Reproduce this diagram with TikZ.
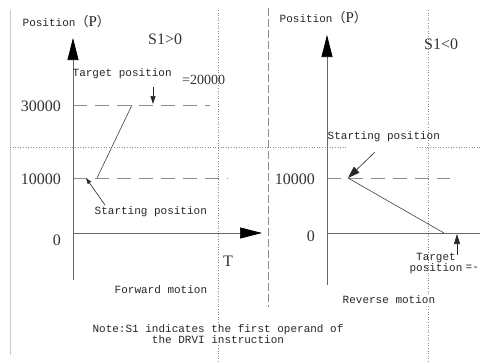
\documentclass[tikz,border=0pt]{standalone}
\usepackage{fontspec}
\setmainfont{Liberation Serif}
\setmonofont{Liberation Mono}
\newfontfamily\cjkfont{Noto Sans CJK SC}
\usetikzlibrary{arrows.meta}
\newcommand{\posP}{Position{\fontsize{13}{13}\selectfont\cjkfont （}{\fontsize{15}{15}\selectfont\rmfamily P}{\fontsize{13}{13}\selectfont\cjkfont ）}}
\tikzset{
  axis/.style={draw=black!60, line width=0.7pt},
  bigtip/.style={-{Triangle[length=22pt,width=11pt,color=black,fill=black]}},
  level/.style={draw=black!45, line width=0.7pt, dash pattern=on 14pt off 8pt},
  guide/.style={draw=black!45, line width=0.6pt, dotted},
  guidedash/.style={draw=black!45, line width=0.6pt, dash pattern=on 8pt off 3pt},
  curve/.style={draw=black!75, line width=0.6pt},
  mono/.style={font=\fontsize{11}{9}\selectfont\ttfamily, inner sep=0.5pt, text=black!85},
  num/.style={font=\fontsize{16}{16}\selectfont, inner sep=0pt, text=black!80},
  pointer/.style={draw=black!85, line width=0.6pt},
}
\begin{document}
\begin{tikzpicture}[x=1pt,y=-1pt]
\useasboundingbox[fill=white] (0,0) rectangle (480,362);
% frame / guide lines
\draw[draw=black!20, line width=0.6pt] (10,10) -- (10,355);
\draw[guide] (10,147) -- (347,147);
\draw[guide] (417,147) -- (480,147);
\draw[guide] (218,10) -- (218,362);
\draw[guide] (428,10) -- (428,362);
\draw[guidedash] (268,8) -- (268,307);

% ---------- left panel ----------
\coordinate (LO) at (73,233);
\coordinate (LYtop) at (73,38);
\coordinate (LYbot) at (73,280);
\coordinate (LXend) at (262,233);
\coordinate (L30a) at (73,105);
\coordinate (L30b) at (210,105);
\coordinate (L10a) at (73,178);
\coordinate (L10b) at (228,178);
\coordinate (Lstart) at (97,178);
\coordinate (Lend) at (132,105);

\draw[level] (L30a) -- (L30b);
\draw[level] (L10a) -- (L10b);
\draw[axis, bigtip] (LYbot) -- (LYtop);
\draw[axis, bigtip] (LO) -- (LXend);
\draw[curve] (Lstart) -- (Lend);

\node[mono, anchor=west] (lpos) at (22,22) {\posP};
\node[num, anchor=west] (ls1) at (148,39) {S1>0};
\node[num, anchor=east] (l30) at (61,106) {30000};
\node[num, anchor=east] (l10) at (61,179) {10000};
\node[num, anchor=east] (l0) at (61,240) {0};
\node[num, anchor=west] (lT) at (223,261) {T};
\node[mono, anchor=west] (ltarget) at (72,74) {Target position};
\node[font=\fontsize{14}{14}\selectfont, inner sep=0pt, anchor=west, text=black!80] (l20000) at (182,80) {=20000};
\coordinate (LtgtTip) at (153,104);
\coordinate (LtgtTail) at (153,87);
\draw[pointer, -{Triangle[length=8pt,width=5pt]}] (LtgtTail) -- (LtgtTip);
\node[mono, anchor=west] (lstartlbl) at (94,212) {Starting position};
\coordinate (LstTip) at (86,178);
\coordinate (LstTail) at (105,205);
\draw[pointer, -{Triangle[length=6pt,width=4pt]}] (LstTail) -- (LstTip);
\node[mono, anchor=west, fill=white] (lfwd) at (114,290) {Forward motion};

% ---------- right panel ----------
\coordinate (RO) at (327,233);
\coordinate (RYtop) at (327,35);
\coordinate (RYbot) at (327,285);
\coordinate (RXend) at (480,233);
\coordinate (R10a) at (327,178);
\coordinate (R10b) at (450,178);
\coordinate (Rstart) at (348,178);
\coordinate (Rend) at (444,233);

\draw[level] (R10a) -- (R10b);
\draw[axis, bigtip] (RYbot) -- (RYtop);
\draw[axis] (RO) -- (RXend);
\draw[curve] (Rstart) -- (Rend);

\node[mono, anchor=west] (rpos) at (279,18) {\posP};
\node[num, anchor=west] (rs1) at (424,44) {S1<0};
\node[num, anchor=east] (r10) at (315,179) {10000};
\node[num, anchor=east] (r0) at (315,236) {0};
\node[mono, anchor=west] (rstartlbl) at (327,137) {Starting position};
\coordinate (RstTip) at (348,178);
\coordinate (RstTail) at (375,152);
\draw[pointer, -{Triangle[length=12pt,width=8pt]}] (RstTail) -- (RstTip);
\node[mono, align=center, anchor=north] (rtarget) at (436,252) {Target\\position};
\node[mono, anchor=west] (req) at (465,268) {=-};
\coordinate (RtgtTip) at (457,234);
\coordinate (RtgtTail) at (457,255);
\draw[pointer, -{Triangle[length=10pt,width=6pt]}] (RtgtTail) -- (RtgtTip);
\node[mono, anchor=west, fill=white] (rrev) at (342,300) {Reverse motion};

% ---------- note ----------
\node[mono, align=center, fill=white, inner sep=1pt] (note) at (218,334) {Note:S1 indicates the first operand of\\the DRVI instruction};
\end{tikzpicture}
\end{document}
